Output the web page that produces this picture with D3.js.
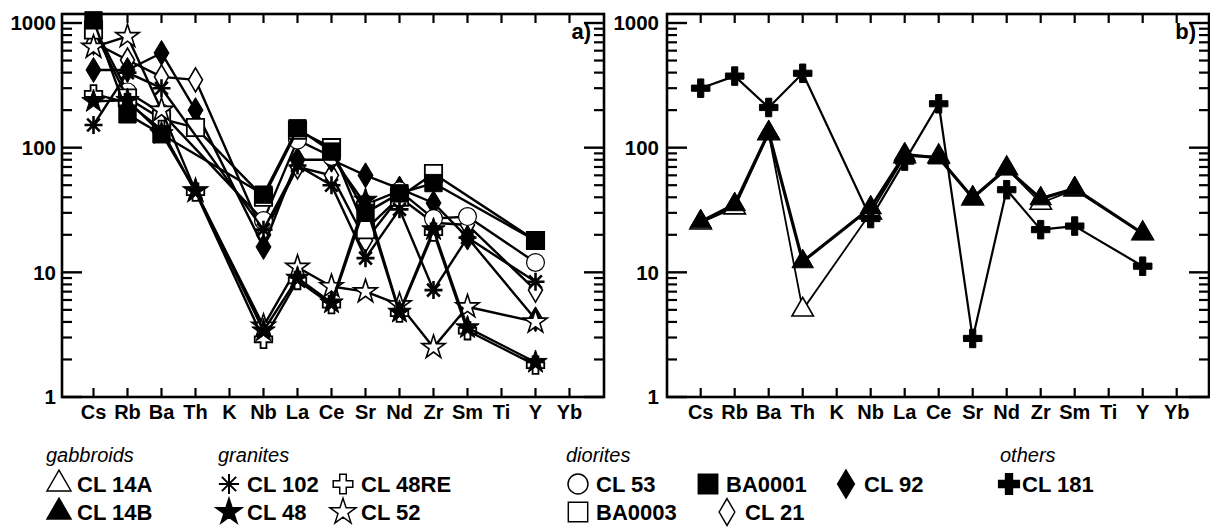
<!DOCTYPE html>
<html>
<head>
<meta charset="utf-8">
<script src="https://cdn.jsdelivr.net/npm/d3@7"></script>
<style>
  body { margin: 0; background: #fff; }
  svg { display: block; font-family: "Liberation Sans", Arial, sans-serif; }
</style>
</head>
<body>
<svg id="chart" width="1210" height="527"></svg>
<script>
// element order on the x axis
var elements = ["Cs", "Rb", "Ba", "Th", "K", "Nb", "La", "Ce", "Sr", "Nd", "Zr", "Sm", "Ti", "Y", "Yb"];
var yTicks = [1, 10, 100, 1000];
var yTickLabels = ["1", "10", "100", "1000"];

// panel a) granites + diorites (null = not analysed)
var cl102  = [152, 400, 300, null, null, 22, 72, 50, 13, 32, 7.2, 19, null, 8.4, null];
var cl48re = [270, 230, 140, 44, null, 2.9, 8.6, 5.5, 35, 4.7, 21, 3.4, null, 1.8, null];
var cl48   = [235, 240, 130, 45, null, 3.4, 9, 5.7, 38, 4.8, 22, 3.6, null, 1.9, null];
var cl52   = [640, 780, 200, 45, null, 3.7, 11, 7.7, 7, 5.5, 2.5, 5.3, null, 4.0, null];
var cl53   = [950, 280, 190, null, null, 26, 115, 85, 35, 45, 27, 28, null, 12, null];
var ba0001 = [1050, 185, 128, null, null, 42, 143, 93, 30, 43, 52, null, null, 18, null];
var ba0003 = [880, 250, 170, 145, null, 40, 138, 100, 22, 40, 62, null, null, 18, null];
var cl92   = [420, 420, 575, 200, null, 16, 80, 80, 60, 47, 36, 19, null, 4.2, null];
var cl21   = [700, 505, 370, 350, null, 20, 70, 60, 18, 40, 25, 24, null, 7.2, null];

// panel b) gabbroids + others
var cl14a = [25, 33, 130, 5.0, null, 30, 85, 85, 39, 68, 36, 46, null, 20.5, null];
var cl14b = [25.5, 35, 132, 12.2, null, 33, 88, 83, 39.6, 68, 39, 47, null, 20.5, null];
var cl181 = [300, 375, 210, 395, null, 27, 78, 225, 2.95, 46, 22, 23.5, null, 11.2, null];

var svg = d3.select("#chart");

// custom shapes
function diamondPath(w, h) {
  return "M0," + (-h / 2) + "L" + (w / 2) + ",0L0," + (h / 2) + "L" + (-w / 2) + ",0Z";
}
function asteriskPath(r) {
  var p = "", d = r * 0.7071;
  p += "M0," + (-r) + "V" + r;
  p += "M" + (-r) + ",0H" + r;
  p += "M" + (-d) + "," + (-d) + "L" + d + "," + d;
  p += "M" + (-d) + "," + d + "L" + d + "," + (-d);
  return p;
}
function sym(type, size) { return d3.symbol().type(type).size(size)(); }

var shapes = {
  triOpen:   { path: sym(d3.symbolTriangle, 200), fill: "#fff", sw: 1.6 },
  triFill:   { path: sym(d3.symbolTriangle, 200), fill: "#000", sw: 1 },
  asterisk:  { path: asteriskPath(9), fill: "none", sw: 2.6 },
  crossOpen: { path: sym(d3.symbolCross, 170), fill: "#fff", sw: 1.8 },
  crossFill: { path: sym(d3.symbolCross, 190), fill: "#000", sw: 1 },
  starFill:  { path: sym(d3.symbolStar, 170), fill: "#000", sw: 1 },
  starOpen:  { path: sym(d3.symbolStar, 170), fill: "#fff", sw: 1.6 },
  circle:    { path: sym(d3.symbolCircle, 250), fill: "#fff", sw: 1.2 },
  sqFill:    { path: sym(d3.symbolSquare, 300), fill: "#000", sw: 1 },
  sqOpen:    { path: sym(d3.symbolSquare, 300), fill: "#fff", sw: 1.8 },
  diaFill:   { path: diamondPath(15, 25), fill: "#000", sw: 1 },
  diaOpen:   { path: diamondPath(14, 24), fill: "#fff", sw: 1.6 }
};

var panels = [
  {
    label: "a)", x0: 93.5, left: 62, right: 604, labelX: 56,
    series: [
      { values: cl21, shape: "diaOpen", lw: 2.4 },
      { values: cl92, shape: "diaFill", lw: 2.4 },
      { values: cl53, shape: "circle", lw: 2.4 },
      { values: ba0003, shape: "sqOpen", lw: 2.4 },
      { values: cl102, shape: "asterisk", lw: 2.4 },
      { values: cl52, shape: "starOpen", lw: 2.4 },
      { values: cl48re, shape: "crossOpen", lw: 2.4 },
      { values: cl48, shape: "starFill", lw: 2.4 },
      { values: ba0001, shape: "sqFill", lw: 2.4 }
    ]
  },
  {
    label: "b)", x0: 700.7, left: 667, right: 1209, labelX: 659,
    series: [
      { values: cl14a, shape: "triOpen", lw: 1.8 },
      { values: cl14b, shape: "triFill", lw: 3.2 },
      { values: cl181, shape: "crossFill", lw: 2.2 }
    ]
  }
];

var yTop = 14, yBottom = 397;
var y = d3.scaleLog().domain([1, 1000]).range([397, 23]);

panels.forEach(function (p) {
  var x = d3.scaleLinear().domain([0, elements.length - 1]).range([p.x0, p.x0 + 34 * (elements.length - 1)]);
  var g = svg.append("g");

  // minor/major ticks on both sides
  var minor = [];
  [1, 10, 100].forEach(function (dec) {
    for (var k = 2; k <= 9; k++) minor.push(dec * k);
  });
  minor = minor.filter(function (v) { return y(v) >= yTop; });

  g.selectAll(".mnl").data(minor).enter().append("line")
    .attr("x1", p.left).attr("x2", p.left + 10)
    .attr("y1", function (d) { return y(d); }).attr("y2", function (d) { return y(d); })
    .attr("stroke", "#000").attr("stroke-width", 2.2);
  g.selectAll(".mnr").data(minor).enter().append("line")
    .attr("x1", p.right).attr("x2", p.right - 10)
    .attr("y1", function (d) { return y(d); }).attr("y2", function (d) { return y(d); })
    .attr("stroke", "#000").attr("stroke-width", 2.2);
  g.selectAll(".mjl").data(yTicks).enter().append("line")
    .attr("x1", p.left).attr("x2", p.left + 20)
    .attr("y1", function (d) { return y(d); }).attr("y2", function (d) { return y(d); })
    .attr("stroke", "#000").attr("stroke-width", 2.4);
  g.selectAll(".mjr").data(yTicks).enter().append("line")
    .attr("x1", p.right).attr("x2", p.right - 20)
    .attr("y1", function (d) { return y(d); }).attr("y2", function (d) { return y(d); })
    .attr("stroke", "#000").attr("stroke-width", 2.4);

  // category ticks top and bottom
  g.selectAll(".tb").data(elements).enter().append("line")
    .attr("x1", function (d, i) { return x(i); }).attr("x2", function (d, i) { return x(i); })
    .attr("y1", yBottom).attr("y2", yBottom - 9)
    .attr("stroke", "#000").attr("stroke-width", 2.2);
  g.selectAll(".tt").data(elements).enter().append("line")
    .attr("x1", function (d, i) { return x(i); }).attr("x2", function (d, i) { return x(i); })
    .attr("y1", yTop).attr("y2", yTop + 9)
    .attr("stroke", "#000").attr("stroke-width", 2.2);

  // frame
  g.append("rect")
    .attr("x", p.left).attr("y", yTop)
    .attr("width", p.right - p.left).attr("height", yBottom - yTop)
    .attr("fill", "none").attr("stroke", "#000").attr("stroke-width", 2.6);

  // tick labels
  g.selectAll(".yl").data(yTicks).enter().append("text")
    .attr("x", p.labelX).attr("y", function (d) { return y(d); })
    .attr("dy", "0.36em").attr("text-anchor", "end")
    .attr("font-size", 20.5).attr("font-weight", "bold")
    .text(function (d, i) { return yTickLabels[i]; });
  g.selectAll(".xl").data(elements).enter().append("text")
    .attr("x", function (d, i) { return x(i); }).attr("y", 419)
    .attr("text-anchor", "middle")
    .attr("font-size", 20).attr("font-weight", "bold")
    .text(function (d) { return d; });

  g.append("text")
    .attr("x", p.right - 13).attr("y", 39)
    .attr("text-anchor", "end")
    .attr("font-size", 22).attr("font-weight", "bold")
    .text(p.label);

  var line = d3.line()
    .x(function (d) { return x(d.i); })
    .y(function (d) { return y(d.v); });

  p.series.forEach(function (s) {
    var pts = s.values.map(function (v, i) { return { i: i, v: v }; })
      .filter(function (d) { return d.v != null; });
    g.append("path")
      .attr("d", line(pts))
      .attr("fill", "none").attr("stroke", "#000")
      .attr("stroke-width", s.lw).attr("stroke-linejoin", "round");
    var sh = shapes[s.shape];
    g.selectAll(null).data(pts).enter().append("path")
      .attr("transform", function (d) { return "translate(" + x(d.i) + "," + y(d.v) + ")"; })
      .attr("d", sh.path)
      .attr("fill", sh.fill).attr("stroke", "#000").attr("stroke-width", sh.sw);
  });
});

// legend
var legendHeads = [
  { text: "gabbroids", x: 46 },
  { text: "granites", x: 218 },
  { text: "diorites", x: 566 },
  { text: "others", x: 1000 }
];
var legendItems = [
  { text: "CL 14A", shape: "triOpen", x: 59, row: 0 },
  { text: "CL 14B", shape: "triFill", x: 59, row: 1 },
  { text: "CL 102", shape: "asterisk", x: 229, row: 0 },
  { text: "CL 48", shape: "starFill", x: 229, row: 1 },
  { text: "CL 48RE", shape: "crossOpen", x: 343, row: 0 },
  { text: "CL 52", shape: "starOpen", x: 343, row: 1 },
  { text: "CL 53", shape: "circle", x: 578, row: 0 },
  { text: "BA0003", shape: "sqOpen", x: 578, row: 1 },
  { text: "BA0001", shape: "sqFill", x: 708, row: 0 },
  { text: "CL 21", shape: "diaOpen", x: 727, row: 1 },
  { text: "CL 92", shape: "diaFill", x: 846, row: 0 },
  { text: "CL 181", shape: "crossFill", x: 1009, row: 0 }
];
var rowY = [484, 512];

svg.selectAll(".lh").data(legendHeads).enter().append("text")
  .attr("x", function (d) { return d.x; }).attr("y", 462)
  .attr("font-size", 20).attr("font-style", "italic")
  .text(function (d) { return d.text; });

var li = svg.selectAll(".li").data(legendItems).enter().append("g")
  .attr("transform", function (d) { return "translate(" + d.x + "," + rowY[d.row] + ")"; });
li.append("path")
  .attr("d", function (d) { return shapes[d.shape].path; })
  .attr("transform", "scale(1.12)")
  .attr("fill", function (d) { return shapes[d.shape].fill; })
  .attr("stroke", "#000")
  .attr("stroke-width", function (d) { return d.shape === "asterisk" ? 1.8 : 1.3; });
li.append("text")
  .attr("x", function (d) { return d.shape === "crossFill" ? 13 : 18; }).attr("dy", "0.36em")
  .attr("font-size", 22).attr("font-weight", "bold")
  .text(function (d) { return d.text; });
</script>
</body>
</html>
